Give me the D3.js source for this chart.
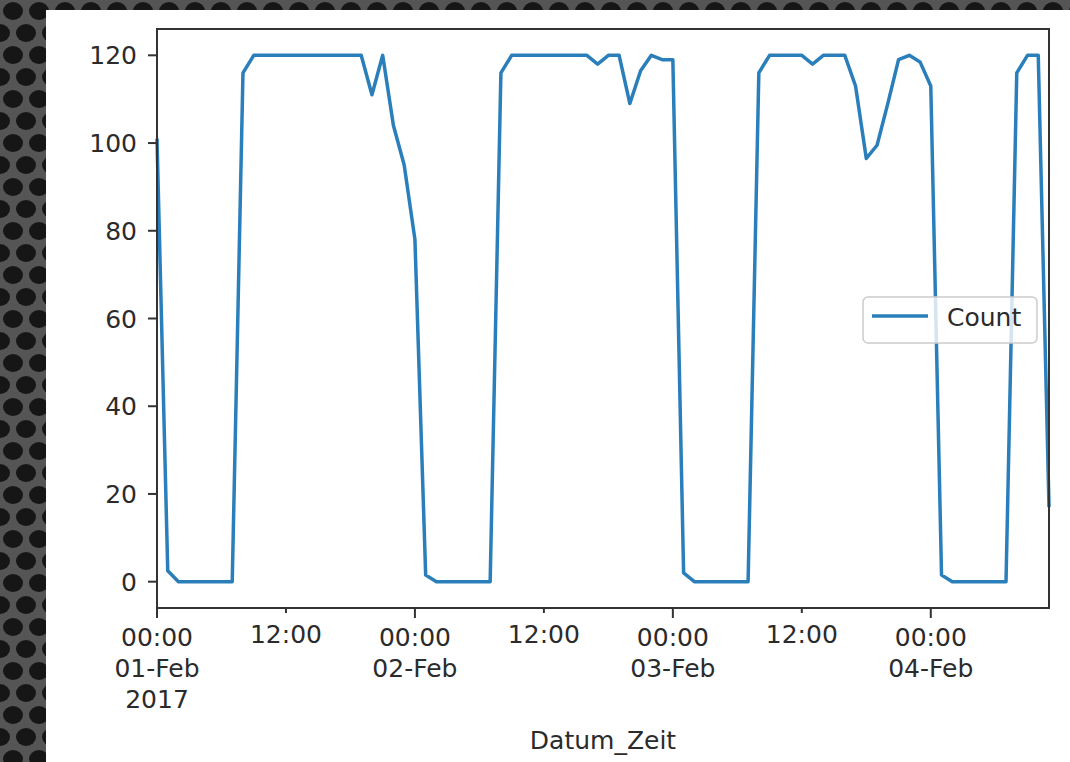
<!DOCTYPE html>
<html>
<head>
<meta charset="utf-8">
<script src="https://cdn.jsdelivr.net/npm/d3@7"></script>
<style>
  html, body { margin: 0; padding: 0; background: #1b1b1b; }
  svg { display: block; }
</style>
</head>
<body>
<div id="chart"></div>
<script>
// data: hourly counts starting 01-Feb-2017 00:00
const startTime = "2017-02-01T00:00:00Z"
const countValues = [
  101, 2.5, 0, 0, 0, 0, 0, 0, 116, 120, 120, 120, 120, 120, 120, 120, 120, 120, 120, 120,
  111, 120, 104, 95, 78, 1.5, 0, 0, 0, 0, 0, 0, 116, 120, 120, 120, 120, 120, 120, 120, 120,
  118, 120, 120, 109, 116.5, 120, 119, 119, 2, 0, 0, 0, 0, 0, 0, 116, 120, 120, 120, 120,
  118, 120, 120, 120, 113, 96.5, 99.5, 109, 119, 120, 118.5, 113, 1.5, 0, 0, 0, 0, 0, 0,
  116, 120, 120, 17
]
const yTicks = [0, 20, 40, 60, 80, 100, 120]
const majorTicks = ["2017-02-01T00:00:00Z", "2017-02-02T00:00:00Z", "2017-02-03T00:00:00Z", "2017-02-04T00:00:00Z"]
const majorLabels = [["00:00", "01-Feb", "2017"], ["00:00", "02-Feb"], ["00:00", "03-Feb"], ["00:00", "04-Feb"]]
const minorTicks = ["2017-02-01T12:00:00Z", "2017-02-02T12:00:00Z", "2017-02-03T12:00:00Z"]
const minorLabels = ["12:00", "12:00", "12:00"]
const legendLabel = "Count"
const xLabel = "Datum_Zeit"

const t0 = new Date(startTime)
const data = countValues.map((v, i) => ({ t: d3.utcHour.offset(t0, i), v: v }))

const width = 1070, height = 762
const margin = { top: 29, right: 21, bottom: 154, left: 157 }
const innerW = width - margin.left - margin.right
const innerH = height - margin.top - margin.bottom
const font = "DejaVu Sans"
const textColor = "#2b2b2b"

const svg = d3.select("#chart").append("svg")
  .attr("width", width)
  .attr("height", height)

// dark mesh background
const defs = svg.append("defs")
const pat = defs.append("pattern")
  .attr("id", "mesh")
  .attr("patternUnits", "userSpaceOnUse")
  .attr("width", 26)
  .attr("height", 44)
pat.append("rect").attr("width", 26).attr("height", 44).attr("fill", "#555")
;[[13, 11], [0, 33], [26, 33]].forEach(c => {
  pat.append("ellipse").attr("cx", c[0]).attr("cy", c[1]).attr("rx", 10).attr("ry", 9).attr("fill", "#161616")
})
svg.append("rect").attr("width", width).attr("height", height).attr("fill", "url(#mesh)")

// white panel
svg.append("rect")
  .attr("x", 46).attr("y", 10)
  .attr("width", width - 46).attr("height", height - 10)
  .attr("fill", "#ffffff")

const g = svg.append("g")
  .attr("transform", `translate(${margin.left},${margin.top})`)

const x = d3.scaleUtc()
  .domain(d3.extent(data, d => d.t))
  .range([0, innerW])

const y = d3.scaleLinear()
  .domain([-6, 126])
  .range([innerH, 0])

// line
const line = d3.line()
  .x(d => x(d.t))
  .y(d => y(d.v))

g.append("path")
  .datum(data)
  .attr("fill", "none")
  .attr("stroke", "#2a7fba")
  .attr("stroke-width", 3.5)
  .attr("stroke-linejoin", "round")
  .attr("d", line)

// frame
g.append("rect")
  .attr("width", innerW)
  .attr("height", innerH)
  .attr("fill", "none")
  .attr("stroke", "#333")
  .attr("stroke-width", 2)

// y axis ticks
const yAxis = g.append("g")
yTicks.forEach(v => {
  yAxis.append("line")
    .attr("x1", -9).attr("x2", 0)
    .attr("y1", y(v)).attr("y2", y(v))
    .attr("stroke", "#333").attr("stroke-width", 2)
  yAxis.append("text")
    .attr("x", -20)
    .attr("y", y(v))
    .attr("dy", "0.36em")
    .attr("text-anchor", "end")
    .style("font-family", font)
    .style("font-size", "25px")
    .style("fill", textColor)
    .text(v)
})

// x axis: minor ticks 12:00
const xAxis = g.append("g").attr("transform", `translate(0,${innerH})`)
minorTicks.forEach((s, i) => {
  const px = x(new Date(s))
  xAxis.append("line")
    .attr("x1", px).attr("x2", px)
    .attr("y1", 0).attr("y2", 5)
    .attr("stroke", "#333").attr("stroke-width", 2)
  xAxis.append("text")
    .attr("x", px)
    .attr("y", 35)
    .attr("text-anchor", "middle")
    .style("font-family", font)
    .style("font-size", "25px")
    .style("fill", textColor)
    .text(minorLabels[i])
})

// major ticks (days)
majorTicks.forEach((s, i) => {
  const px = x(new Date(s))
  xAxis.append("line")
    .attr("x1", px).attr("x2", px)
    .attr("y1", 0).attr("y2", 10)
    .attr("stroke", "#333").attr("stroke-width", 2)
  const txt = xAxis.append("text")
    .attr("text-anchor", "middle")
    .style("font-family", font)
    .style("font-size", "25px")
    .style("fill", textColor)
  majorLabels[i].forEach((l, j) => {
    txt.append("tspan")
      .attr("x", px)
      .attr("y", 38 + j * 31)
      .text(l)
  })
})

// x label
g.append("text")
  .attr("x", innerW / 2)
  .attr("y", innerH + 141)
  .attr("text-anchor", "middle")
  .style("font-family", font)
  .style("font-size", "25px")
  .style("fill", textColor)
  .text(xLabel)

// legend
const lg = svg.append("g").attr("transform", `translate(863,297)`)
lg.append("rect")
  .attr("width", 174)
  .attr("height", 46)
  .attr("rx", 5)
  .attr("fill", "rgba(255,255,255,0.8)")
  .attr("stroke", "#cccccc")
  .attr("stroke-width", 1.5)
lg.append("line")
  .attr("x1", 9).attr("x2", 65)
  .attr("y1", 19).attr("y2", 19)
  .attr("stroke", "#2a7fba")
  .attr("stroke-width", 3.5)
lg.append("text")
  .attr("x", 84)
  .attr("y", 29)
  .style("font-family", font)
  .style("font-size", "25px")
  .style("fill", textColor)
  .text(legendLabel)
</script>
</body>
</html>
